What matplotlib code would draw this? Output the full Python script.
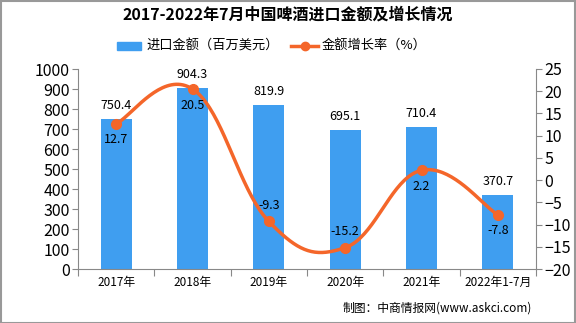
import numpy as np
import matplotlib
matplotlib.use("Agg")
import matplotlib.pyplot as plt
from matplotlib.patches import Rectangle

plt.rcParams['font.family'] = ['Noto Sans CJK SC', 'DejaVu Sans']

categories = ["2017年", "2018年", "2019年", "2020年", "2021年", "2022年1-7月"]
amount = [750.4, 904.3, 819.9, 695.1, 710.4, 370.7]
growth = [12.7, 20.5, -9.3, -15.2, 2.2, -7.8]
growth_label_above = [False, False, True, True, False, False]
title = "2017-2022年7月中国啤酒进口金额及增长情况"
legend_bar = "进口金额（百万美元）"
legend_line = "金额增长率（%）"
source = "制图：中商情报网(www.askci.com)"

bar_color = "#3f9ef0"
line_color = "#f4662a"
axis_color = "#888888"

W, H = 576, 323
fig = plt.figure(figsize=(W / 100, H / 100), dpi=100)
ax = fig.add_axes([78 / W, 1 - 269 / H, (536 - 78) / W, 200 / H])
ax2 = ax.twinx()

x = np.arange(len(categories))
ax.bar(x, amount, width=0.41, color=bar_color, zorder=2)
ax.set_xlim(-0.5, len(categories) - 0.5)
ax.set_ylim(0, 1000)
ax.set_yticks(np.arange(0, 1001, 100))
ax2.set_ylim(-20, 25)
ax2.set_yticks(np.arange(-20, 26, 5))
ax.set_xticks(np.arange(len(categories) + 1) - 0.5, minor=False)
ax.set_xticklabels([])
ax.set_xticks(x, minor=True)
ax.set_xticklabels(categories, minor=True)

for a in (ax, ax2):
    a.spines["top"].set_visible(False)
    a.spines["left"].set_color(axis_color)
    a.spines["right"].set_color(axis_color)
    a.spines["bottom"].set_color(axis_color)
ax.spines["right"].set_visible(False)
ax2.spines["left"].set_visible(False)
ax2.spines["bottom"].set_visible(False)
ax.tick_params(axis="y", colors=axis_color, labelcolor="black", labelsize=11.5, length=4, pad=2)
ax2.tick_params(axis="y", colors=axis_color, labelcolor="black", labelsize=11.5, length=4, pad=2)
ax.tick_params(axis="x", which="major", colors=axis_color, length=5)
ax.tick_params(axis="x", which="minor", length=0, labelsize=8.5, pad=5)

# smooth curve (cardinal spline through the points)
def smooth(xs, ys, n=40, t=0.5):
    xs = np.asarray(xs, float)
    ys = np.asarray(ys, float)
    px, py = [], []
    m = len(xs)
    for i in range(m - 1):
        p0 = (xs[max(i - 1, 0)], ys[max(i - 1, 0)])
        p1 = (xs[i], ys[i])
        p2 = (xs[i + 1], ys[i + 1])
        p3 = (xs[min(i + 2, m - 1)], ys[min(i + 2, m - 1)])
        c1 = (p1[0] + (p2[0] - p0[0]) * t / 3, p1[1] + (p2[1] - p0[1]) * t / 3)
        c2 = (p2[0] - (p3[0] - p1[0]) * t / 3, p2[1] - (p3[1] - p1[1]) * t / 3)
        s = np.linspace(0, 1, n)
        bx = (1 - s) ** 3 * p1[0] + 3 * (1 - s) ** 2 * s * c1[0] + 3 * (1 - s) * s ** 2 * c2[0] + s ** 3 * p2[0]
        by = (1 - s) ** 3 * p1[1] + 3 * (1 - s) ** 2 * s * c1[1] + 3 * (1 - s) * s ** 2 * c2[1] + s ** 3 * p2[1]
        px.extend(bx)
        py.extend(by)
    return np.array(px), np.array(py)

sx, sy = smooth(x, growth, t=0.6)
ax2.plot(sx, sy, color=line_color, lw=2.5, zorder=3, solid_capstyle="round")
ax2.plot(x, growth, "o", color=line_color, ms=7, zorder=4)

for xi, v in zip(x, amount):
    ax.annotate(f"{v:.1f}", (xi, v), xytext=(0, 5), textcoords="offset points",
                ha="center", va="bottom", fontsize=9, zorder=5)
for xi, v, above in zip(x, growth, growth_label_above):
    ax2.annotate(f"{v:.1f}", (xi, v), xytext=(0, 7 if above else -7), textcoords="offset points",
                 ha="center", va="bottom" if above else "top", fontsize=9, zorder=5)

fig.text(0.5, 1 - 15 / H, title, ha="center", va="center", fontsize=11.5, fontweight="bold")

# legend
fig.patches.append(Rectangle((117 / W, 1 - 50 / H), 24 / W, 8 / H, transform=fig.transFigure,
                             color=bar_color, figure=fig))
fig.text(146 / W, 1 - 46 / H, legend_bar, ha="left", va="center", fontsize=9.5)
fig.lines.append(plt.Line2D([291 / W, 318 / W], [1 - 46 / H, 1 - 46 / H], transform=fig.transFigure,
                            color=line_color, lw=2.5, figure=fig))
fig.lines.append(plt.Line2D([304.5 / W], [1 - 46 / H], transform=fig.transFigure, marker="o", ms=6,
                            color=line_color, figure=fig))
fig.text(322 / W, 1 - 46 / H, legend_line, ha="left", va="center", fontsize=9.5)

fig.text(532 / W, 1 - 308 / H, source, ha="right", va="center", fontsize=8.5)

# outer frame
fig.patches.append(Rectangle((0.5 / W, 0.5 / H), (W - 1.5) / W, (H - 1.5) / H, transform=fig.transFigure,
                             fill=False, edgecolor="#999999", lw=1.5, figure=fig))

fig.savefig("out.png", dpi=100)
